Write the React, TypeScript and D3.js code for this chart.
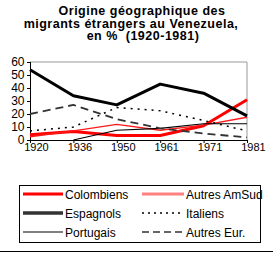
import React from "react";
import * as d3 from "d3";

const years = ["1920", "1936", "1950", "1961", "1971", "1981"];
const yTicks = [0, 10, 20, 30, 40, 50, 60];
const colombiens = [4, 6.5, 3.5, 3.5, 11, 31];
const autresAmSud = [2.5, 7, 12, 7.5, 11.5, 17.5];
const espagnols = [54, 34, 27, 43, 36, 18.5];
const italiens = [7, 10, 25, 22.5, 15, 7];
const portugais: (number | null)[] = [null, 0, 7.5, 9, 12.5, 12.5];
const autresEur = [20, 27, 16, 9, 5, 2];
const titleLines = ["Origine géographique des", "migrants étrangers au Venezuela,", "en %  (1920-1981)"];

type S = { name: string; values: (number | null)[]; color: string; width: number; dash?: string; legendColor?: string; legendWidth?: number };
const series: S[] = [
  { name: "Colombiens", values: colombiens, color: "#ff0000", width: 3 },
  { name: "Autres AmSud", values: autresAmSud, color: "#ff1a1a", width: 1.3, legendColor: "#ff8080", legendWidth: 3 },
  { name: "Espagnols", values: espagnols, color: "#000000", width: 3, legendColor: "#333", legendWidth: 3.5 },
  { name: "Italiens", values: italiens, color: "#000000", width: 1.5, dash: "2,5" },
  { name: "Portugais", values: portugais, color: "#000000", width: 1.2 },
  { name: "Autres Eur.", values: autresEur, color: "#333333", width: 1.8, dash: "8,5" },
];

const FONT = "Arial, 'Liberation Sans', sans-serif";

export default function App() {
  const x = d3.scalePoint<string>().domain(years).range([30, 247]);
  const y = d3.scaleLinear().domain([0, 60]).range([140, 62]);
  const line = d3
    .line<number | null>()
    .defined((d) => d !== null)
    .x((_, i) => x(years[i]) as number)
    .y((d) => y(d as number));

  const legendOrder = [
    [series[0], series[1]],
    [series[2], series[3]],
    [series[4], series[5]],
  ];
  const rowY = [194, 213, 232];

  return (
    <svg width={273} height={270} style={{ position: "absolute", left: 0, top: 0, background: "#fff" }} fontFamily={FONT}>
      {titleLines.map((t, i) => (
        <text key={i} x={[142, 131, 143][i]} y={15 + i * 12.5} textAnchor="middle" fontSize={12.5} fontWeight="bold" letterSpacing={0.5} style={{ whiteSpace: "pre" }}>
          {t}
        </text>
      ))}
      {/* plot frame */}
      <line x1={30} x2={247} y1={62} y2={62} stroke="#999" />
      <line x1={247} x2={247} y1={62} y2={140} stroke="#999" />
      {/* y axis */}
      <line x1={30.5} x2={30.5} y1={62} y2={140} stroke="#000" />
      {yTicks.map((t) => (
        <g key={t}>
          <line x1={27} x2={30} y1={Math.round(y(t)) + 0.5} y2={Math.round(y(t)) + 0.5} stroke="#000" />
          <text x={24.5} y={y(t) + 4} textAnchor="end" fontSize={12}>
            {t}
          </text>
        </g>
      ))}
      {series.map((s) => (
        <path
          key={s.name}
          d={line(s.values) || ""}
          fill="none"
          stroke={s.color}
          strokeWidth={s.width}
          strokeDasharray={s.dash}
          strokeLinejoin="round"
        />
      ))}
      {/* x axis */}
      <line x1={30} x2={247} y1={140.5} y2={140.5} stroke="#000" />
      {years.map((yr) => (
        <g key={yr}>
          <line x1={(x(yr) as number) + 0.5} x2={(x(yr) as number) + 0.5} y1={140} y2={143} stroke="#000" />
          <text x={(x(yr) as number) + 6.5} y={150.5} textAnchor="middle" fontSize={11}>
            {yr}
          </text>
        </g>
      ))}
      {/* legend */}
      <rect x={19.5} y={185.5} width={241} height={57} fill="none" stroke="#000" />
      {legendOrder.map((row, ri) =>
        row.map((s, ci) => {
          const lx = ci === 0 ? 23 : 142;
          const len = ci === 0 ? 40 : 42;
          return (
            <g key={s.name}>
              <line
                x1={lx}
                x2={lx + len}
                y1={rowY[ri]}
                y2={rowY[ri]}
                stroke={s.legendColor || s.color}
                strokeWidth={s.legendWidth || (s.dash ? 1.3 : s.width)}
                strokeDasharray={s.dash === "8,5" ? "7,4" : s.dash ? "2,4" : undefined}
              />
              <text x={lx + len + 2} y={rowY[ri] + 4.5} fontSize={12}>
                {s.name}
              </text>
            </g>
          );
        })
      )}
      <line x1={0} x2={273} y1={251.5} y2={251.5} stroke="#000" />
    </svg>
  );
}
